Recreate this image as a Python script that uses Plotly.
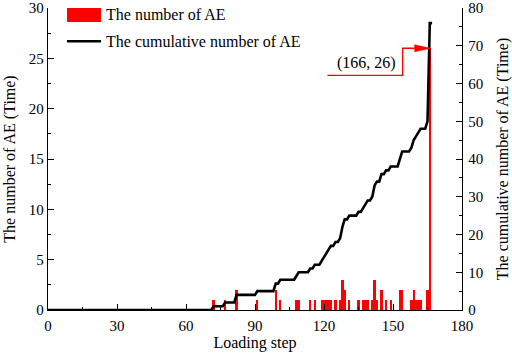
import numpy as np
import plotly.graph_objects as go

# ---- data ----
ae_steps = [72, 77, 82, 91, 99, 101, 108, 109, 114, 116, 119, 120, 121, 122, 123, 125,
            127, 128, 129, 131, 135, 137, 138, 139, 141, 142, 143, 145, 147, 149, 153,
            154, 158, 159, 160, 161, 162, 165, 166]
ae_counts = [1, 1, 2, 1, 2, 1, 1, 1, 1, 1, 1, 1, 1, 1, 1, 1,
             1, 3, 2, 1, 1, 1, 1, 1, 1, 3, 1, 2, 1, 1, 2,
             2, 1, 2, 1, 1, 1, 2, 26]
last_step = 167
x_ticks = [0, 30, 60, 90, 120, 150, 180]
y_left_ticks = [0, 5, 10, 15, 20, 25, 30]
y_right_ticks = [0, 10, 20, 30, 40, 50, 60, 70, 80]
bar_name = "The number of AE"
line_name = "The cumulative number of AE"

# cumulative number per loading step
steps = np.arange(0, last_step + 1)
per_step = np.zeros(len(steps))
for s, c in zip(ae_steps, ae_counts):
    per_step[s] = c
cumulative = np.cumsum(per_step)

peak_i = int(np.argmax(ae_counts))
peak_x, peak_y = ae_steps[peak_i], ae_counts[peak_i]

FONT = "Liberation Serif"
RED = "#ff0000"

fig = go.Figure()
fig.add_trace(go.Bar(x=ae_steps, y=ae_counts, width=1.0, marker=dict(color=RED, line=dict(width=0)),
                     name=bar_name, yaxis="y", showlegend=False))
fig.add_trace(go.Scatter(x=steps, y=cumulative, mode="lines", line=dict(color="black", width=2.6),
                         name=line_name, yaxis="y2", showlegend=False))

axis_common = dict(showline=True, linecolor="black", linewidth=1.3, ticks="inside",
                   ticklen=6, tickwidth=1.3, tickcolor="black", showgrid=False, zeroline=False,
                   automargin=False, ticklabeloverflow="allow",
                   tickfont=dict(family=FONT, size=15, color="black"))

fig.update_layout(
    width=512, height=354,
    margin=dict(l=48, r=50, t=8, b=44),
    paper_bgcolor="white", plot_bgcolor="white",
    font=dict(family=FONT, size=16, color="black"),
    bargap=0,
    xaxis=dict(range=[0, 180], tickvals=x_ticks, ticklabelstandoff=2,
               title=dict(text="Loading step", standoff=3, font=dict(family=FONT, size=16)),
               minor=dict(ticks="inside", dtick=15, ticklen=3, tickcolor="black"), **axis_common),
    yaxis=dict(range=[0, 30], tickvals=y_left_ticks,
               title=dict(text="The number of AE (Time)", standoff=9, font=dict(family=FONT, size=16)),
               minor=dict(ticks="inside", dtick=2.5, ticklen=3, tickcolor="black"), **axis_common),
    yaxis2=dict(range=[0, 80], tickvals=y_right_ticks, overlaying="y", side="right",
                ticklabelstandoff=2,
                title=dict(text="The cumulative number of AE (Time)", standoff=15,
                           font=dict(family=FONT, size=16)),
                minor=dict(ticks="inside", dtick=5, ticklen=3, tickcolor="black"), **axis_common),
)

# legend drawn as shapes + text (wide swatches as in the reference)
sw_x0, sw_x1, txt_x = 0.046, 0.128, 0.136
row1, row2 = 0.977, 0.89
fig.add_shape(type="rect", xref="paper", yref="paper", x0=sw_x0, x1=sw_x1, y0=row1 - 0.023, y1=row1 + 0.023,
              fillcolor=RED, line=dict(width=0))
fig.add_shape(type="line", xref="paper", yref="paper", x0=sw_x0, x1=sw_x1, y0=row2, y1=row2,
              line=dict(color="black", width=2.6))
for yy, name in ((row1, bar_name), (row2, line_name)):
    fig.add_annotation(x=txt_x, y=yy, xref="paper", yref="paper", text=name, showarrow=False,
                       xanchor="left", yanchor="middle", font=dict(family=FONT, size=16, color="black"))

# callout for the peak value
elbow_x = peak_x - 11.8
start_x = peak_x - 44.5
low_y = peak_y - 2.7
head_len = 7.0
tip_x = peak_x + 0.4
fig.add_shape(type="path", xref="x", yref="y",
              path=f"M {start_x},{low_y} L {elbow_x},{low_y} L {elbow_x},{peak_y} L {tip_x - head_len},{peak_y}",
              line=dict(color=RED, width=1.3))
fig.add_shape(type="path", xref="x", yref="y",
              path=f"M {tip_x - head_len},{peak_y + 0.35} L {tip_x},{peak_y} L {tip_x - head_len},{peak_y - 0.35} Z",
              line=dict(color=RED, width=0.5), fillcolor=RED)
fig.add_annotation(x=(start_x + elbow_x) / 2 + 0.5, y=low_y + 1.25, xref="x", yref="y",
                   text=f"({peak_x}, {peak_y})", showarrow=False,
                   font=dict(family=FONT, size=16, color="black"))

fig.write_html("out.html", config={"displayModeBar": False},
               post_script="document.body.style.margin='0';document.body.style.padding='0';")
